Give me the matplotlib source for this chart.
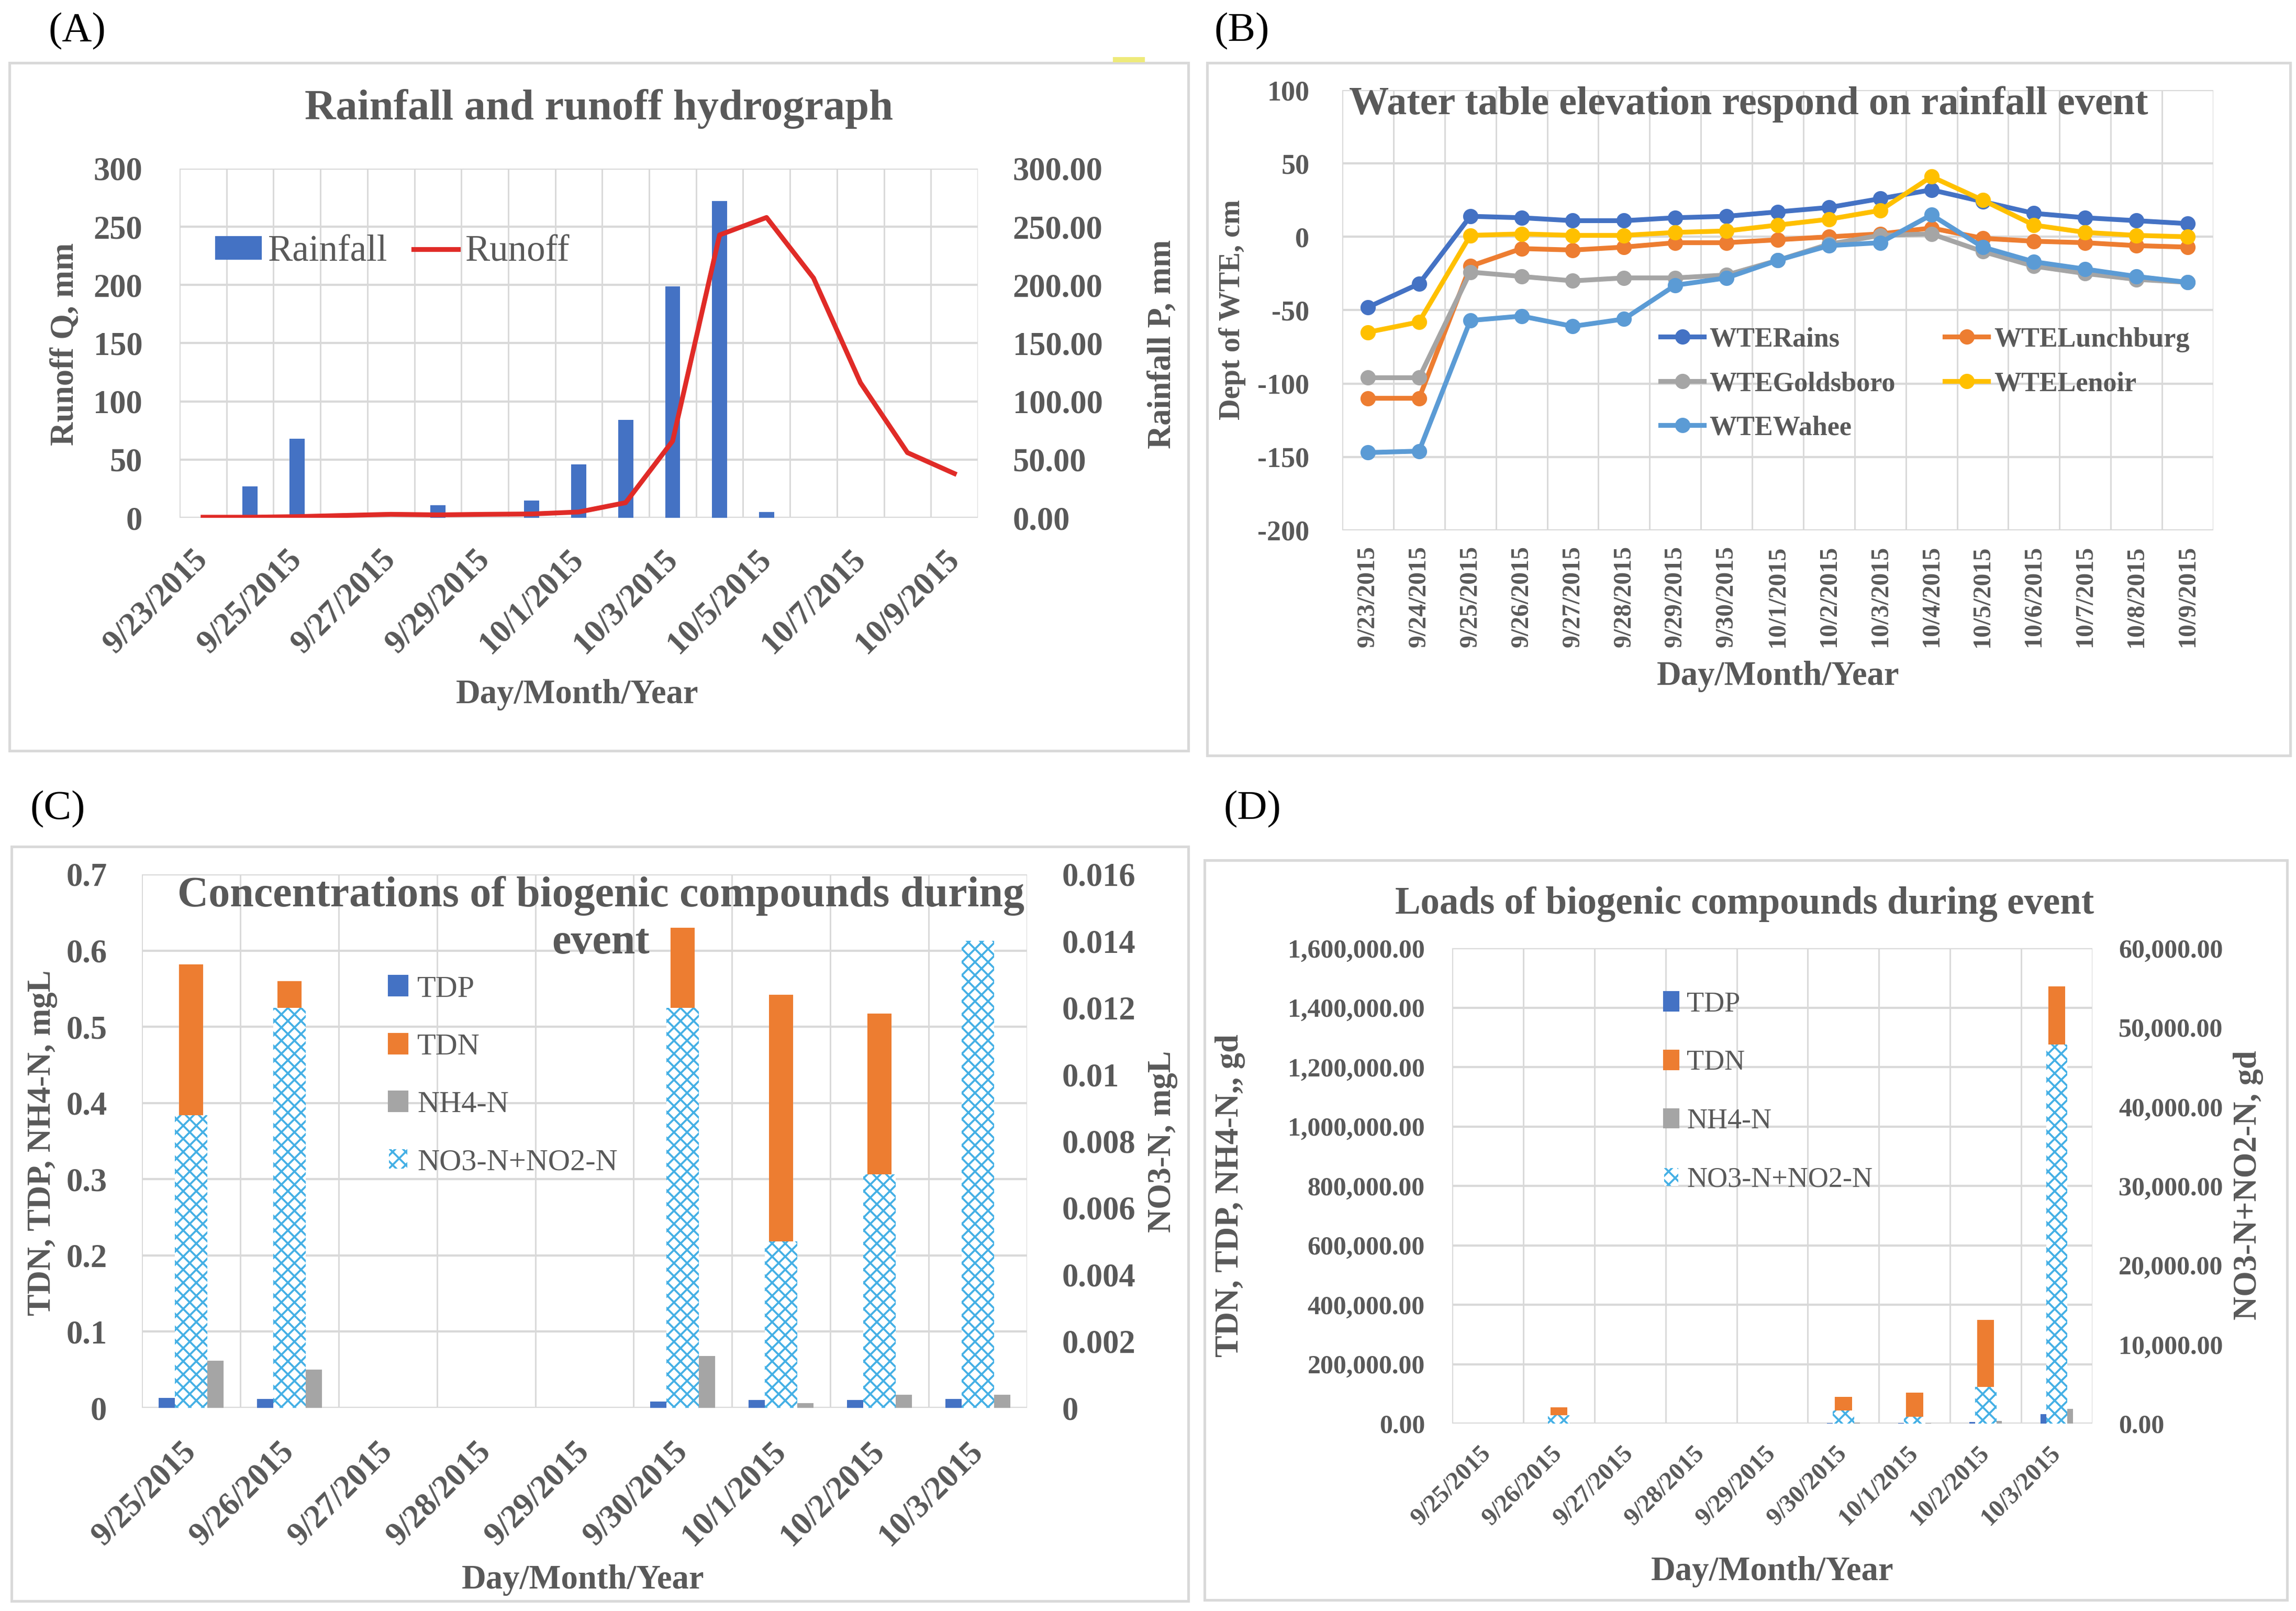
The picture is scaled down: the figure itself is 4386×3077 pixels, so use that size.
import numpy as np
import matplotlib.pyplot as plt
from matplotlib.patches import Rectangle, Patch
from matplotlib.lines import Line2D
from matplotlib.ticker import FuncFormatter

plt.rcParams['font.family'] = ['Liberation Serif', 'DejaVu Serif']
plt.rcParams['hatch.linewidth'] = 0.9

TXT = '#595959'
GRID = '#D9D9D9'
BLUE, ORANGE, GRAY, YELLOW, LBLUE = '#4472C4', '#ED7D31', '#A5A5A5', '#FFC000', '#5B9BD5'
HATCH_C = '#45B0E5'

# ---- (A) rainfall / runoff ----
dates_a = ['9/23/2015', '9/24/2015', '9/25/2015', '9/26/2015', '9/27/2015', '9/28/2015',
           '9/29/2015', '9/30/2015', '10/1/2015', '10/2/2015', '10/3/2015', '10/4/2015',
           '10/5/2015', '10/6/2015', '10/7/2015', '10/8/2015', '10/9/2015']
rainfall = [0, 27, 68, 0, 0, 11, 0, 15, 46, 84, 199, 272, 5, 0, 0, 0, 0]
runoff = [0.5, 0.5, 1, 2, 3, 2.5, 3, 3.3, 5, 13, 66, 243, 258, 206, 116, 56, 38]

# ---- (B) water table elevation ----
dates_b = dates_a
wte_rains = [-48, -32, 14, 13, 11, 11, 13, 14, 17, 20, 26, 32, 24, 16, 13, 11, 9]
wte_lunchburg = [-110, -110, -20, -8, -9, -7, -4, -4, -2, 0, 2, 6, -1, -3, -4, -6, -7]
wte_goldsboro = [-96, -96, -24, -27, -30, -28, -28, -26, -16, -5, 1, 2, -10, -20, -25, -29, -31]
wte_lenoir = [-65, -58, 1, 2, 1, 1, 3, 4, 8, 12, 18, 41, 25, 8, 3, 1, 0]
wte_wahee = [-147, -146, -57, -54, -61, -56, -33, -28, -16, -6, -4, 15, -7, -17, -22, -27, -31]

# ---- (C) concentrations ----
dates_c = ['9/25/2015', '9/26/2015', '9/27/2015', '9/28/2015', '9/29/2015',
           '9/30/2015', '10/1/2015', '10/2/2015', '10/3/2015']
tdp_c = [0.013, 0.012, 0, 0, 0, 0.008, 0.010, 0.010, 0.012]
tdn_c = [0.582, 0.560, 0, 0, 0, 0.630, 0.542, 0.517, 0.580]
nh4_c = [0.062, 0.050, 0, 0, 0, 0.068, 0.006, 0.017, 0.017]
no3_c = [0.00877, 0.0120, 0, 0, 0, 0.0120, 0.0050, 0.0070, 0.0140]

# ---- (D) loads ----
dates_d = dates_c
tdp_d = [0, 500, 0, 0, 0, 1000, 1000, 5000, 31700]
tdn_d = [0, 54600, 0, 0, 0, 89900, 104000, 349000, 1471000]
nh4_d = [0, 800, 0, 0, 0, 4000, 1500, 8000, 49300]
no3_d = [0, 1060, 0, 0, 0, 1650, 860, 4620, 47850]

W, H = 4386, 3077
fig = plt.figure(figsize=(W / 300, H / 300), dpi=300)


def fx(px):
    return px / W


def fy(py):
    return 1 - py / H


def rect(x0, y0, x1, y1):
    return [fx(x0), fy(y1), (x1 - x0) / W, (y1 - y0) / H]


def style(ax, n):
    ax.set_xlim(-0.5, n - 0.5)
    for s in ax.spines.values():
        s.set_visible(False)
    ax.set_xticks(np.arange(-0.5, n), minor=True)
    ax.grid(True, which='minor', axis='x', color=GRID, lw=0.7)
    ax.grid(True, which='major', axis='y', color=GRID, lw=1.0)
    ax.grid(False, which='major', axis='x')
    ax.tick_params(which='both', length=0, colors=TXT)
    ax.set_axisbelow(True)


def frame(x0, y0, x1, y1):
    fig.add_artist(Rectangle((fx(x0), fy(y1)), (x1 - x0) / W, (y1 - y0) / H,
                             transform=fig.transFigure, fill=False, ec=GRID, lw=1.2))


def fmt(f):
    return FuncFormatter(lambda v, p: f.format(v))


def diag_labels(ax, size, pad):
    ax.tick_params(axis='x', pad=pad)
    for t in ax.get_xticklabels():
        t.set_rotation(45)
        t.set_ha('right')
        t.set_va('center')
        t.set_rotation_mode('anchor')
        t.set_fontsize(size)
        t.set_fontweight('bold')


def label(x, y, s, size, rot=0, weight='bold', ha='center'):
    fig.text(fx(x), fy(y), s, ha=ha, va='center', rotation=rot, fontsize=size,
             fontweight=weight, color=TXT)


# frames and panel letters
frame(18, 120, 2270, 1434)
frame(2306, 120, 4375, 1443)
frame(22, 1617, 2270, 3058)
frame(2301, 1643, 4369, 3056)
fig.add_artist(Rectangle((fx(2126), fy(119)), 61 / W, 10 / H, transform=fig.transFigure,
                         color='#EEEA7A', lw=0))
for lab, x, y in [('(A)', 147, 60), ('(B)', 2372, 60), ('(C)', 110, 1546), ('(D)', 2392, 1546)]:
    fig.text(fx(x), fy(y), lab, ha='center', va='center', fontsize=19, color='black')

# ================= (A) =================
n = len(dates_a)
x = np.arange(n)
ax_a = fig.add_axes(rect(343, 322, 1868, 989))
style(ax_a, n)
ax_a.bar(x, rainfall, width=0.32, color=BLUE, zorder=2)
ax_a.set_ylim(0, 300)
ax_a.set_yticks(np.arange(0, 301, 50))
ax_a.yaxis.set_major_formatter(fmt('{:.2f}'))
ax_a.set_xticks(x[::2])
ax_a.set_xticklabels(dates_a[::2])
diag_labels(ax_a, 15, 17)

ax_a2 = ax_a.twinx()
for s in ax_a2.spines.values():
    s.set_visible(False)
ax_a2.plot(x, runoff, color='#E02B27', lw=2.2, solid_joinstyle='round', zorder=3)
ax_a2.set_ylim(0, 300)
ax_a2.set_yticks(np.arange(0, 301, 50))
ax_a2.yaxis.set_major_formatter(fmt('{:.0f}'))
ax_a.yaxis.tick_right()
ax_a2.yaxis.tick_left()
ax_a.tick_params(axis='y', labelsize=15, pad=16)
ax_a2.tick_params(axis='y', length=0, colors=TXT, labelsize=15, pad=17)
for t in ax_a.get_yticklabels() + ax_a2.get_yticklabels():
    t.set_fontweight('bold')

label(1144, 208, 'Rainfall and runoff hydrograph', 19.8)
label(1103, 1327, 'Day/Month/Year', 15.5)
label(125, 657, 'Runoff Q, mm', 15, rot=90)
label(2221, 657, 'Rainfall P, mm', 15, rot=90)
fig.legend([Patch(color=BLUE), Line2D([], [], color='#E02B27', lw=2.2)], ['Rainfall', 'Runoff'],
           loc='center left', bbox_to_anchor=(fx(413), fy(481)), ncol=2, frameon=False,
           handlelength=1.2, handleheight=0.52, handletextpad=0.2, columnspacing=0.7,
           borderpad=0, borderaxespad=0, prop={'size': 17}, labelcolor=TXT)

# ================= (B) =================
n = len(dates_b)
x = np.arange(n)
ax_b = fig.add_axes(rect(2564, 172, 4228, 1013))
style(ax_b, n)
series_b = [('WTERains', wte_rains, BLUE), ('WTELunchburg', wte_lunchburg, ORANGE),
            ('WTEGoldsboro', wte_goldsboro, GRAY), ('WTELenoir', wte_lenoir, YELLOW),
            ('WTEWahee', wte_wahee, LBLUE)]
handles_b = {}
for name, vals, col in series_b:
    ln, = ax_b.plot(x, vals, color=col, lw=2.2, marker='o', ms=6, zorder=3)
    handles_b[name] = ln
ax_b.set_ylim(-200, 100)
ax_b.set_yticks(np.arange(-200, 101, 50))
ax_b.yaxis.set_major_formatter(fmt('{:.0f}'))
ax_b.set_xticks(x)
ax_b.set_xticklabels(dates_b, rotation=90, fontsize=11.5, fontweight='bold')
ax_b.tick_params(axis='x', pad=7)
ax_b.tick_params(axis='y', labelsize=13, pad=15)
for t in ax_b.get_yticklabels():
    t.set_fontweight('bold')
order = ['WTERains', 'WTEGoldsboro', 'WTEWahee', 'WTELunchburg', 'WTELenoir']
fig.legend([handles_b[k] for k in order], order, loc='center left',
           bbox_to_anchor=(fx(3172), fy(733)), ncol=2, frameon=False,
           handlelength=1.6, handletextpad=0.2, columnspacing=1.8, labelspacing=0.7,
           borderpad=0, borderaxespad=0, prop={'size': 12.5, 'weight': 'bold'}, labelcolor=TXT)
label(2577, 199, 'Water table elevation respond on rainfall event', 18.3, ha='left')
label(3397, 1292, 'Day/Month/Year', 15.5)
label(2354, 592, 'Dept of WTE, cm', 13.5, rot=90)


# ================= (C) and (D) =================
def biogenic(pos, dates, tdp, tdn, nh4, no3, lmax, lstep, rmax, rstep, lfmt, rfmt,
             w_side, off, w_mid, w_no3, ysize, xsize, lpad, rpad, xpad):
    n = len(dates)
    x = np.arange(n)
    ax = fig.add_axes(pos)
    style(ax, n)
    ax.bar(x - off, tdp, width=w_side, color=BLUE, zorder=2)
    ax.bar(x, tdn, width=w_mid, color=ORANGE, zorder=2)
    ax.bar(x + off, nh4, width=w_side, color=GRAY, zorder=2)
    ax.set_ylim(0, lmax)
    ax.set_yticks(np.arange(0, lmax + lstep / 2, lstep))
    ax.yaxis.set_major_formatter(lfmt)
    ax.set_xticks(x)
    ax.set_xticklabels(dates)
    diag_labels(ax, xsize, xpad)
    ax.tick_params(axis='y', labelsize=ysize, pad=lpad)
    ax2 = ax.twinx()
    for s in ax2.spines.values():
        s.set_visible(False)
    ax2.bar(x, no3, width=w_no3, facecolor='white', edgecolor=HATCH_C, hatch='xxxx', lw=0, zorder=2)
    ax2.set_ylim(0, rmax)
    ax2.set_yticks(np.arange(0, rmax + rstep / 2, rstep))
    ax2.yaxis.set_major_formatter(rfmt)
    ax2.tick_params(axis='y', length=0, colors=TXT, labelsize=ysize, pad=rpad)
    for t in ax.get_yticklabels() + ax2.get_yticklabels():
        t.set_fontweight('bold')
    return ax, ax2


gfmt = FuncFormatter(lambda v, p: '0' if v == 0 else f'{v:g}')
biogenic(rect(271, 1670, 1962, 2689), dates_c, tdp_c, tdn_c, nh4_c, no3_c,
         0.7, 0.1, 0.016, 0.002, gfmt, gfmt,
         0.18, 0.24, 0.245, 0.33, 15, 15, 16, 16, 18)
biogenic(rect(2774, 1811, 3997, 2719), dates_d, tdp_d, tdn_d, nh4_d, no3_d,
         1600000, 200000, 60000, 10000, fmt('{:,.2f}'), fmt('{:,.2f}'),
         0.12, 0.17, 0.24, 0.3, 12, 11.5, 12.5, 12, 12)

hatch_patch = Patch(facecolor='white', edgecolor=HATCH_C, hatch='xxxx', lw=0)
leg_h = [Patch(color=BLUE), Patch(color=ORANGE), Patch(color=GRAY), hatch_patch]
leg_l = ['TDP', 'TDN', 'NH4-N', 'NO3-N+NO2-N']
fig.legend(leg_h, leg_l, loc='center left', bbox_to_anchor=(fx(743), fy(2055)), frameon=False,
           handlelength=0.6, handleheight=0.6, handletextpad=0.33, labelspacing=1.0,
           borderpad=0, borderaxespad=0, prop={'size': 14}, labelcolor=TXT)
fig.legend(leg_h, leg_l, loc='center left', bbox_to_anchor=(fx(3179), fy(2086)), frameon=False,
           handlelength=0.5, handleheight=0.6, handletextpad=0.3, labelspacing=1.13,
           borderpad=0, borderaxespad=0, prop={'size': 13}, labelcolor=TXT)

fig.text(fx(1148), fy(1756), 'Concentrations of biogenic compounds during\nevent', ha='center',
         va='center', fontsize=19.7, fontweight='bold', color=TXT, linespacing=1.25)
label(3333, 1727, 'Loads of biogenic compounds during event', 17.5)
label(1114, 3018, 'Day/Month/Year', 15.5)
label(3386, 3002, 'Day/Month/Year', 15.5)
label(81, 2183, 'TDN, TDP, NH4-N, mgL', 15, rot=90)
label(2221, 2180, 'NO3-N, mgL', 15, rot=90)
label(2350, 2284, 'TDN, TDP, NH4-N,, gd', 15, rot=90)
label(4295, 2264, 'NO3-N+NO2-N, gd', 15, rot=90)

fig.savefig('out.png', dpi=300, facecolor='white')
